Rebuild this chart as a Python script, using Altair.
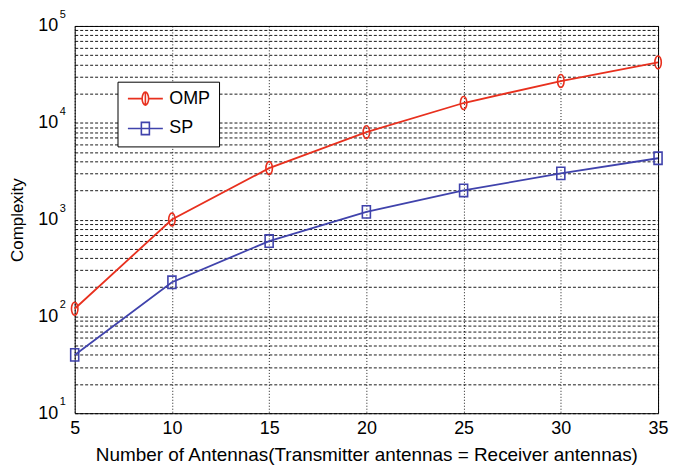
import altair as alt
import pandas as pd

antennas = [5, 10, 15, 20, 25, 30, 35]
omp = [120, 1000, 3400, 8000, 16000, 27000, 42000]
sp = [40, 225, 600, 1200, 2000, 3000, 4300]
series = ["OMP", "SP"]
colors = ["#E8301E", "#4043AC"]
x_ticks = [5, 10, 15, 20, 25, 30, 35]
y_ticks = [k * 10 ** e for e in range(1, 5) for k in range(1, 10)] + [100000]
decades = [10, 100, 1000, 10000, 100000]
exponents = ["1", "2", "3", "4", "5"]

df = pd.DataFrame({
    "x": antennas * 2,
    "y": omp + sp,
    "s": ["OMP"] * len(omp) + ["SP"] * len(sp),
})
df_exp = pd.DataFrame({"x": [antennas[0]] * len(decades), "y": decades, "e": exponents})

ELL = "M-0.5,0 A0.5,1 0 1,1 0.5,0 A0.5,1 0 1,1 -0.5,0 Z"
RECT = "M-0.62,-0.95 L0.62,-0.95 L0.62,0.95 L-0.62,0.95 Z"
LEG_ELL = "M-2.7,0 L-0.5,0 M0.5,0 L2.7,0 " + ELL + " M0,-1 L0,1"
LEG_RECT = "M-2.7,0 L2.7,0 " + RECT

FONT = "Liberation Sans"

label_expr = ("(datum.value == 10 || datum.value == 100 || datum.value == 1000 || "
              "datum.value == 10000 || datum.value == 100000) ? '10' : ''")

x_enc = alt.X("x:Q",
              scale=alt.Scale(domain=[5, 35], nice=False, zero=False),
              axis=alt.Axis(values=x_ticks, grid=True, gridDash=[1, 2], gridColor="#000000",
                            gridOpacity=0.9, ticks=False, domain=False, labelFlush=False,
                            labelFontSize=18, titleFontSize=19, labelPadding=6, titlePadding=9,
                            labelColor="#000000", titleColor="#000000", titleFontWeight="normal",
                            labelFont=FONT, titleFont=FONT,
                            title="Number of Antennas(Transmitter antennas = Receiver antennas)"))
y_enc = alt.Y("y:Q",
              scale=alt.Scale(type="log", domain=[10, 100000], nice=False),
              axis=alt.Axis(values=y_ticks, labelExpr=label_expr, grid=True, gridDash=[3, 2],
                            gridColor="#000000", gridOpacity=0.9, ticks=False, domain=False,
                            labelOverlap=False, labelBound=False, labelFontSize=18,
                            titleFontSize=17, labelPadding=17, titlePadding=11,
                            labelColor="#000000", titleColor="#000000", titleFontWeight="normal",
                            labelFont=FONT, titleFont=FONT, title="Complexity"))

base = alt.Chart(df)

lines = base.mark_line(strokeWidth=1.8).encode(
    x=x_enc, y=y_enc,
    color=alt.Color("s:N", scale=alt.Scale(domain=series, range=colors), legend=None),
    detail="s:N",
)

pts_omp = base.transform_filter(alt.datum.s == "OMP").mark_point(
    shape=ELL, size=169, filled=False, strokeWidth=1.6, color=colors[0], opacity=1
).encode(x=x_enc, y=y_enc)

pts_sp = base.transform_filter(alt.datum.s == "SP").mark_point(
    shape=RECT, size=169, filled=False, strokeWidth=1.6, color=colors[1], opacity=1
).encode(x=x_enc, y=y_enc)

exp_text = alt.Chart(df_exp).mark_text(
    align="left", baseline="middle", dx=-15, dy=-11, fontSize=11, font=FONT, color="#000000"
).encode(x=x_enc, y=y_enc, text="e:N")

legend = alt.Legend(title=None, orient="none", legendX=43, legendY=56,
                    fillColor="#ffffff", strokeColor="#000000", padding=8,
                    labelFontSize=18, labelFont=FONT, labelColor="#000000",
                    symbolSize=169, symbolStrokeWidth=1.6, symbolOffset=11,
                    labelOffset=15, rowPadding=10, symbolFillColor="transparent")

leg = base.transform_filter("false").mark_point(size=169, filled=False, strokeWidth=1.6, opacity=1).encode(
    x=x_enc, y=y_enc,
    color=alt.Color("s:N", scale=alt.Scale(domain=series, range=colors), legend=legend),
    shape=alt.Shape("s:N", scale=alt.Scale(domain=series, range=[LEG_ELL, LEG_RECT]), legend=legend),
)

chart = alt.layer(lines, pts_omp, pts_sp, exp_text, leg).resolve_scale(
    color="independent", shape="independent"
).properties(
    width=586, height=389,
    padding={"left": 0, "top": 0, "right": 0, "bottom": 0},
    background="#ffffff",
).configure_view(stroke="#000000", strokeWidth=1)

chart.save("out.html", embed_options={"renderer": "svg", "actions": False})
